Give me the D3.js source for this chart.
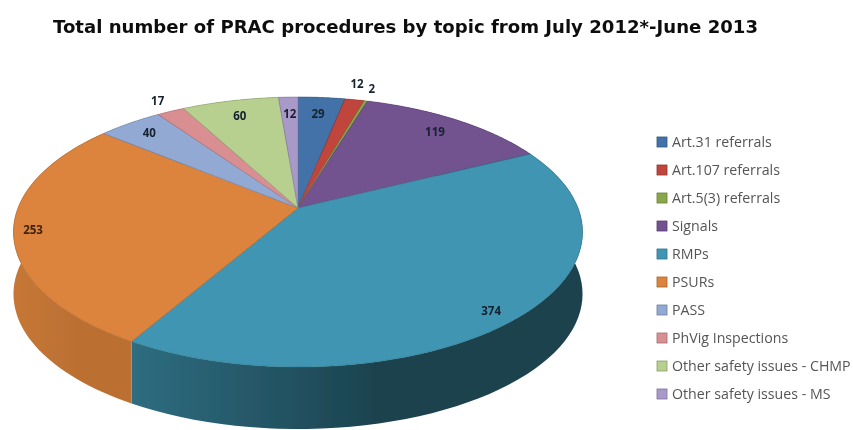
<!DOCTYPE html>
<html><head><meta charset="utf-8">
<script src="https://cdn.jsdelivr.net/npm/d3@7"></script>
<style>html,body{margin:0;padding:0;background:#fff;overflow:hidden}svg{display:block}</style>
</head><body><svg id="c" width="853" height="430"></svg>
<script>
const categories=["Art.31 referrals","Art.107 referrals","Art.5(3) referrals","Signals","RMPs","PSURs","PASS","PhVig Inspections","Other safety issues - CHMP","Other safety issues - MS"];
const values=[29,12,2,119,374,253,40,17,60,12];
const colors=["#4272a8","#c0443e","#8aa84a","#73528f","#3f96b2","#dc843c","#92a9d4","#d98f92","#b7cf8f","#a999c9"];
const labelRadius=[.83,1.17,1.13,.845,.918,.933,.872,1.12,.839,.826];
const labelTurn=[0,-1.2,-.3,0,1.9,0,0,0,0,0];
const wallFrom=[.5,.5,.5,.5,.9,.3,.5,.5,.5,.5];
const wallTo=[1,1,1,1,2.3,.45,1,1,1,1];
const title="Total number of PRAC procedures by topic from July 2012*-June 2013";

const svg=d3.select("#c");
const cx=298,cy=208,A=280,B=130.7,k=.178,depth=62;
const project=(a,r)=>{const u=r*Math.sin(a),v=r*Math.cos(a),d=1+k*v;return [cx+A*u/d,cy-B*v/d];};
const pie=d3.pie().sort(null)(values);
const arcPts=(s,e)=>d3.range(0,61).map(i=>project(s+(e-s)*i/60,1));
const line=d3.line();
const defs=svg.append("defs");
defs.append("filter").attr("id","soft").attr("x","-5%").attr("y","-5%").attr("width","110%").attr("height","110%")
  .append("feGaussianBlur").attr("stdDeviation",.65);
const root=svg.append("g").attr("filter","url(#soft)");

pie.forEach((p,i)=>{
  const g=defs.append("linearGradient").attr("id","w"+i);
  g.append("stop").attr("offset",0).attr("stop-color",d3.color(colors[i]).darker(wallFrom[i]));
  g.append("stop").attr("offset",.55).attr("stop-color",d3.color(colors[i]).darker(wallTo[i]));
  const pts=arcPts(p.startAngle,p.endAngle);
  const poly=pts.concat(pts.map(q=>[q[0],q[1]+depth]).reverse());
  root.append("path").attr("d",line(poly)+"Z").attr("fill",`url(#w${i})`);
});
pie.forEach((p,i)=>{
  const poly=[[cx,cy]].concat(arcPts(p.startAngle,p.endAngle));
  root.append("path").attr("d",line(poly)+"Z").attr("fill",colors[i])
    .attr("stroke",d3.color(colors[i]).darker(.7)).attr("stroke-width",.6).attr("stroke-linejoin","round");
});
pie.forEach((p,i)=>{
  const a=(p.startAngle+p.endAngle)/2+labelTurn[i]*Math.PI/180;
  const [x,y]=project(a,labelRadius[i]);
  root.append("text").attr("x",x).attr("y",y).attr("dy","0.35em").attr("text-anchor","middle")
    .attr("font-family","'Open Sans',sans-serif").attr("font-size",11.5).attr("font-weight",700)
    .attr("fill",i===5?"#3f230c":"#16212e").text(values[i]);
});
root.append("text").attr("x",53).attr("y",33).attr("font-family","'DejaVu Sans',sans-serif")
  .attr("font-weight",700).attr("font-size",17).attr("fill","#111")
  .attr("textLength",705).attr("lengthAdjust","spacingAndGlyphs").text(title);
const ly=d3.scalePoint().domain(categories).range([142,394]);
const lg=root.append("g").selectAll("g").data(categories).join("g").attr("transform",d=>`translate(662,${ly(d)})`);
lg.append("rect").attr("x",-5).attr("y",-5).attr("width",10).attr("height",10)
  .attr("fill",(d,i)=>colors[i]).attr("stroke",(d,i)=>d3.color(colors[i]).darker(.8)).attr("stroke-width",.8);
lg.append("text").attr("x",10).attr("dy","0.35em").attr("font-family","'Open Sans',sans-serif")
  .attr("font-size",14.2).attr("fill","#555").text(d=>d);
</script></body></html>
